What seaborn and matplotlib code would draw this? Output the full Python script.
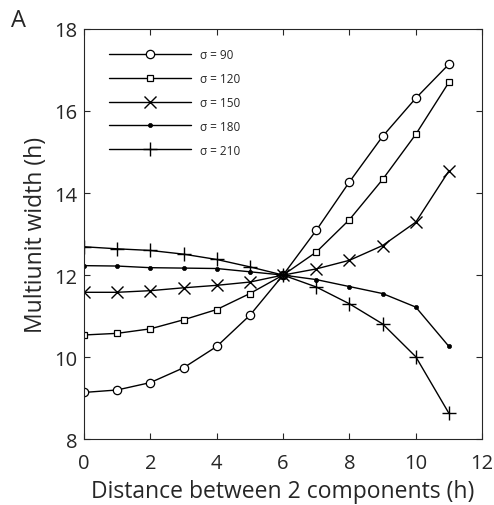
import numpy as np
import pandas as pd
import matplotlib
matplotlib.use("Agg")
import matplotlib.pyplot as plt
import seaborn as sns

distance = list(range(12))
w90 = [9.14, 9.20, 9.38, 9.74, 10.26, 11.02, 12.0, 13.09, 14.27, 15.38, 16.31, 17.14]
w120 = [10.54, 10.58, 10.69, 10.91, 11.16, 11.55, 12.0, 12.56, 13.35, 14.33, 15.43, 16.70]
w150 = [11.58, 11.58, 11.62, 11.69, 11.75, 11.83, 12.0, 12.15, 12.36, 12.72, 13.29, 14.54]
w180 = [12.23, 12.22, 12.18, 12.17, 12.16, 12.08, 12.0, 11.89, 11.72, 11.55, 11.22, 10.26]
w210 = [12.69, 12.64, 12.60, 12.51, 12.38, 12.20, 12.0, 11.71, 11.30, 10.81, 10.01, 8.63]
labels = ["σ = 90", "σ = 120", "σ = 150", "σ = 180", "σ = 210"]
xticks = [0, 2, 4, 6, 8, 10, 12]
yticks = [8, 10, 12, 14, 16, 18]

sns.set_style("ticks")
plt.rcParams['font.family'] = ['Open Sans', 'DejaVu Sans']

fig = plt.figure(figsize=(4.94, 5.06), dpi=100)
ax = fig.add_axes([0.170, 0.130, 0.806, 0.811])

styles = [
    dict(marker='o', markersize=6, markerfacecolor='white', markeredgewidth=0.9),
    dict(marker='s', markersize=4.3, markerfacecolor='white', markeredgewidth=0.9),
    dict(marker='x', markersize=8, markeredgewidth=1.0),
    dict(marker='o', markersize=3, markerfacecolor='black', markeredgewidth=0.5),
    dict(marker='+', markersize=10, markeredgewidth=1.0),
]
series = [w90, w120, w150, w180, w210]
for vals, lab, st in zip(series, labels, styles):
    df = pd.DataFrame({"d": distance, "w": vals})
    sns.lineplot(data=df, x="d", y="w", ax=ax, color='black', linewidth=1.0,
                 markeredgecolor='black', label=lab, **st)

ax.set_xlim(0, 12)
ax.set_ylim(8, 18)
ax.set_xticks(xticks)
ax.set_yticks(yticks)
ax.tick_params(direction='in', top=True, right=True, labelsize=14.5, length=4, width=0.8)
ax.tick_params(axis='x', pad=10)
ax.tick_params(axis='y', pad=5)
for s in ax.spines.values():
    s.set_linewidth(0.8)
    s.set_visible(True)
ax.set_xlabel("Distance between 2 components (h)", fontsize=16.5, labelpad=4)
ax.set_ylabel("Multiunit width (h)", fontsize=16.5, labelpad=4)

leg = ax.legend(loc='upper left', bbox_to_anchor=(0.037, 0.98), frameon=False,
                fontsize=8.5, handlelength=6.9, handletextpad=0.75, labelspacing=0.93)

fig.text(0.022, 0.947, "A", fontsize=17)
fig.savefig("out.png", dpi=100)
